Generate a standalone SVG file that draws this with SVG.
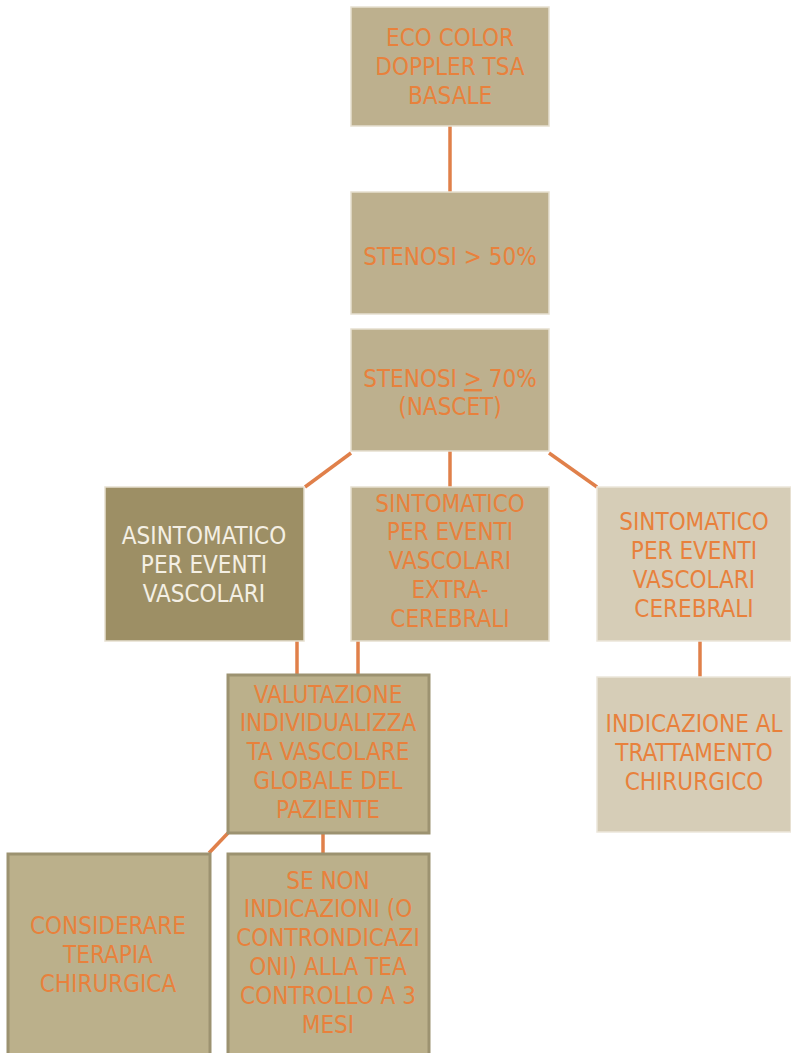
<svg xmlns="http://www.w3.org/2000/svg" width="791" height="1053" viewBox="0 0 791 1053">
<style>
.b{fill:#bdb08e;stroke:#e6dfd0;stroke-width:1.5}
.d{fill:#9d8f65;stroke:#e6dfd0;stroke-width:1.5}
.l{fill:#d6cdb7;stroke:#ece6da;stroke-width:1.5}
.o{fill:#bbb08b;stroke:#9c9270;stroke-width:3}
text{font-family:"DejaVu Sans Condensed","DejaVu Sans",sans-serif;font-size:24px;text-anchor:middle;fill:#e8813c}
.w{fill:#f4efe4}
.c{stroke:#e0804a;stroke-width:3.5;fill:none}
</style>
<rect width="791" height="1053" fill="#ffffff"/>
<g id="connectors">
<line class="c" x1="450" y1="126" x2="450" y2="192"/>
<line class="c" x1="351" y1="453" x2="305" y2="487"/>
<line class="c" x1="450" y1="451" x2="450" y2="487"/>
<line class="c" x1="549" y1="453" x2="597" y2="487"/>
<line class="c" x1="297" y1="641" x2="297" y2="674"/>
<line class="c" x1="358" y1="641" x2="358" y2="674"/>
<line class="c" x1="700" y1="641" x2="700" y2="677"/>
<line class="c" x1="228" y1="833" x2="209" y2="853"/>
<line class="c" x1="323" y1="833" x2="323" y2="853"/>
</g>
<g id="n1"><rect class="b" x="351" y="7" width="198" height="119"/>
<text x="450" y="46">ECO COLOR</text><text x="450" y="75">DOPPLER TSA</text><text x="450" y="104">BASALE</text></g>
<g id="n2"><rect class="b" x="351" y="192" width="198" height="122"/>
<text x="450" y="265">STENOSI &gt;  50%</text></g>
<g id="n3"><rect class="b" x="351" y="329" width="198" height="122"/>
<text x="450" y="387">STENOSI <tspan text-decoration="underline">&gt;</tspan> 70%</text><text x="450" y="415">(NASCET)</text></g>
<g id="n4"><rect class="d" x="105" y="487" width="199" height="154"/>
<text class="w" x="204" y="544">ASINTOMATICO</text><text class="w" x="204" y="573">PER EVENTI</text><text class="w" x="204" y="602">VASCOLARI</text></g>
<g id="n5"><rect class="b" x="351" y="487" width="198" height="154"/>
<text x="450" y="512">SINTOMATICO</text><text x="450" y="540">PER EVENTI</text><text x="450" y="569">VASCOLARI</text><text x="450" y="598">EXTRA-</text><text x="450" y="627">CEREBRALI</text></g>
<g id="n6"><rect class="l" x="597" y="487" width="194" height="154"/>
<text x="694" y="530">SINTOMATICO</text><text x="694" y="559">PER EVENTI</text><text x="694" y="588">VASCOLARI</text><text x="694" y="617">CEREBRALI</text></g>
<g id="n7"><rect class="l" x="597" y="677" width="194" height="155"/>
<text x="694" y="732">INDICAZIONE AL</text><text x="694" y="761">TRATTAMENTO</text><text x="694" y="790">CHIRURGICO</text></g>
<g id="n8"><rect class="o" x="228" y="675" width="201" height="158"/>
<text x="328" y="703">VALUTAZIONE</text><text x="328" y="731">INDIVIDUALIZZA</text><text x="328" y="760">TA VASCOLARE</text><text x="328" y="789">GLOBALE DEL</text><text x="328" y="818">PAZIENTE</text></g>
<g id="n9"><rect class="o" x="8" y="854" width="202" height="202"/>
<text x="108" y="934">CONSIDERARE</text><text x="108" y="963">TERAPIA</text><text x="108" y="992">CHIRURGICA</text></g>
<g id="n10"><rect class="o" x="228" y="854" width="201" height="202"/>
<text x="328" y="889">SE NON</text><text x="328" y="917">INDICAZIONI (O</text><text x="328" y="946">CONTRONDICAZI</text><text x="328" y="975">ONI) ALLA TEA</text><text x="328" y="1004">CONTROLLO A 3</text><text x="328" y="1033">MESI</text></g>
</svg>
